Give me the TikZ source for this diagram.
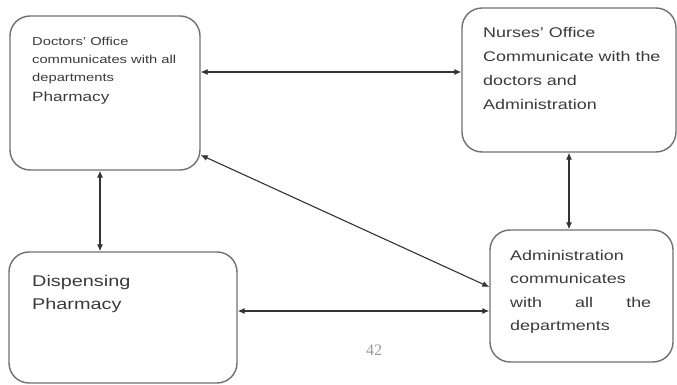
\documentclass[tikz,border=0pt]{standalone}
\usepackage{xcolor}
\usepackage{fontspec}
\setmainfont[FakeStretch=1.28]{Liberation Sans}
\newfontfamily\pagenumfont{Liberation Serif}
\usepackage{tikz}
\usetikzlibrary{calc}
\usetikzlibrary{arrows}
\usetikzlibrary{arrows.meta}
\usetikzlibrary{positioning}
\definecolor{boxgray}{RGB}{112,112,112}
\definecolor{txtgray}{RGB}{58,58,58}
\tikzset{>=latex}
\tikzstyle{box} = [draw = boxgray, line width = 1.4pt, rounded corners = 20pt, inner sep = 0]
\tikzstyle{txt} = [draw = none, inner sep = 0, anchor = base west, align = left, text = txtgray]
\tikzstyle{twoway} = [{Latex[length=7pt,width=6pt]}-{Latex[length=7pt,width=6pt]}, line width = 1.1pt, draw = black!80]

\begin{document}
\begin{tikzpicture}[x=1pt, y=1pt]
\useasboundingbox (0, 0) rectangle (677, 385);
\node [box, minimum width = 190, minimum height = 154] (D) at (105, 292) {};
\node [box, minimum width = 214, minimum height = 144] (N) at (569, 305) {};
\node [box, minimum width = 228, minimum height = 131] (P) at (123, 67.5) {};
\node [box, minimum width = 183, minimum height = 132] (A) at (581.5, 89) {};
% text anchored on the baseline of the last line
\node [txt, font = \fontsize{11.5}{18}\selectfont] (D1) at (32, 303) {Doctors' Office\\communicates with all\\departments};
\node [txt, font = \fontsize{13.4}{18}\selectfont] (D2) at (32, 283) {Pharmacy};
\node [txt, font = \fontsize{14}{24}\selectfont] (N1) at (483, 275) {Nurses' Office\\Communicate with the\\doctors and\\Administration};
\node [txt, font = \fontsize{15.5}{23.5}\selectfont] (P1) at (32, 75) {Dispensing\\Pharmacy};
\node [txt, font = \fontsize{14}{23.5}\selectfont] (A1) at (510, 54) {Administration\\communicates\\\makebox[141pt][s]{with all the}\\departments};
\node [draw = none, inner sep = 0, text = black!40, font = \pagenumfont\fontsize{16}{18}\selectfont] (pg) at (374, 35) {42};
\draw [twoway] ([yshift=21pt]D.east) to ([yshift=8pt]N.west);
\draw [twoway] ([xshift=-5pt]D.south) to ([xshift=-23pt]P.north);
\draw [twoway] (N.south) to ([xshift=-12.5pt]A.north);
\draw [twoway] ([yshift=-62pt]D.east) to ([yshift=9pt]A.west);
\draw [twoway] ([yshift=6.5pt]P.east) to ([yshift=-15pt]A.west);
\end{tikzpicture}
\end{document}
